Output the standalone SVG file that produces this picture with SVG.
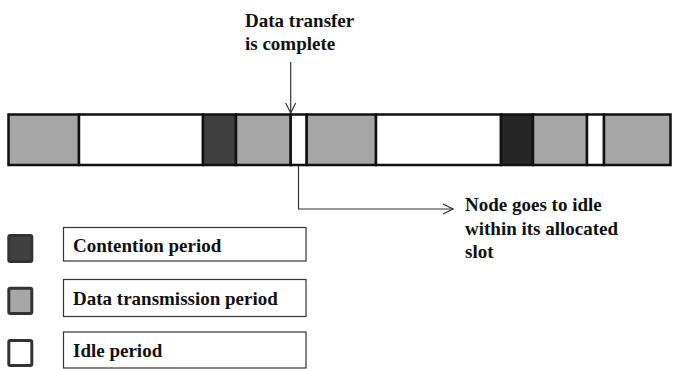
<svg xmlns="http://www.w3.org/2000/svg" width="673" height="369" viewBox="0 0 673 369">
<style>
.t{font-family:"Liberation Serif","Times New Roman",serif;font-weight:bold;font-size:19px;fill:#111}
.seg{stroke:#111;stroke-width:2.5}
.g{fill:#a6a6a6}.w{fill:#fff}.d{fill:#404040}.d2{fill:#262626}
.lbox{fill:#fff;stroke:#333;stroke-width:1.2}
.sq{stroke:#333;stroke-width:3}
.conn{fill:none;stroke:#333;stroke-width:1.2}
</style>
<defs>
<marker id="open" viewBox="0 0 12 12" refX="11" refY="6" markerWidth="12" markerHeight="12" markerUnits="userSpaceOnUse" orient="auto">
<path d="M1,1 L11,6 L1,11" fill="none" stroke="#333" stroke-width="1.2"/>
</marker>
</defs>
<g id="timeline">
<rect class="seg g" x="8.5" y="114.5" width="70.5" height="50.5"/>
<rect class="seg w" x="79" y="114.5" width="124" height="50.5"/>
<rect class="seg d" x="203" y="114.5" width="33" height="50.5"/>
<rect class="seg g" x="236" y="114.5" width="54.7" height="50.5"/>
<rect class="seg w" x="290.7" y="114.5" width="16" height="50.5"/>
<rect class="seg g" x="306.7" y="114.5" width="69.3" height="50.5"/>
<rect class="seg w" x="376" y="114.5" width="125" height="50.5"/>
<rect class="seg d2" x="501" y="114.5" width="32" height="50.5"/>
<rect class="seg g" x="533" y="114.5" width="54" height="50.5"/>
<rect class="seg w" x="587" y="114.5" width="17" height="50.5"/>
<rect class="seg g" x="604" y="114.5" width="66.5" height="50.5"/>
</g>
<g id="label-complete">
<text class="t" x="245" y="27">Data transfer</text>
<text class="t" x="245" y="50">is complete</text>
</g>
<g id="label-idle">
<text class="t" x="465" y="211">Node goes to idle</text>
<text class="t" x="465" y="235">within its allocated</text>
<text class="t" x="465" y="258">slot</text>
</g>
<g id="connectors">
<line class="conn" x1="290.7" y1="62" x2="290.7" y2="113" marker-end="url(#open)"/>
<polyline class="conn" points="298.5,166 298.5,209 453,209" marker-end="url(#open)"/>
</g>
<g id="legend-contention">
<rect class="sq d" x="8.8" y="235.5" width="23" height="26" rx="1.5"/>
<rect class="lbox" x="63.5" y="227.5" width="242.5" height="33.5"/>
<text class="t" x="73" y="252">Contention period</text>
</g>
<g id="legend-data">
<rect class="sq g" x="8.8" y="288.2" width="23" height="25.3" rx="1.5"/>
<rect class="lbox" x="63.5" y="279.5" width="242.5" height="37"/>
<text class="t" x="73" y="305">Data transmission period</text>
</g>
<g id="legend-idle">
<rect class="sq w" x="8.8" y="340.5" width="23" height="25" rx="1.5"/>
<rect class="lbox" x="63.5" y="332" width="242.5" height="36"/>
<text class="t" x="73" y="356.5">Idle period</text>
</g>
</svg>
